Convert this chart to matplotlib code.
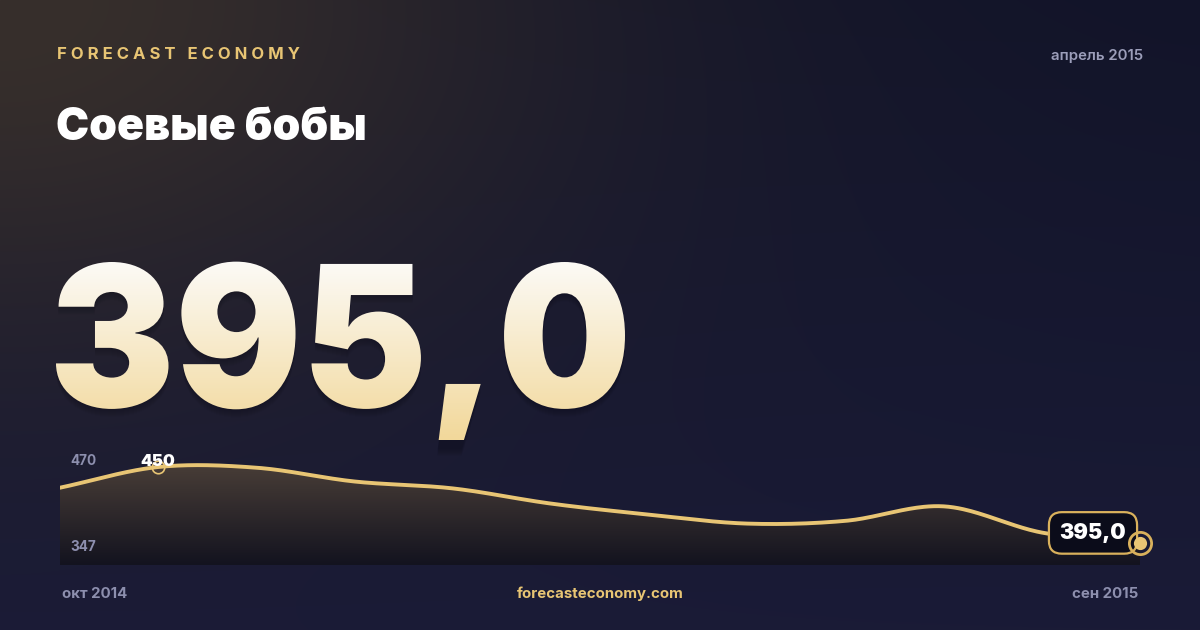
import matplotlib
matplotlib.use('Agg')
import matplotlib.pyplot as plt
import numpy as np
from matplotlib import font_manager as fm
from matplotlib.textpath import TextPath
from matplotlib.font_manager import FontProperties
from matplotlib.patches import PathPatch
from matplotlib.transforms import Affine2D
from matplotlib.colors import to_rgb

plt.rcParams['font.family'] = ['Inter', 'DejaVu Sans']

# Data
months = ['окт 2014', 'ноя 2014', 'дек 2014', 'янв 2015', 'фев 2015', 'мар 2015',
          'апр 2015', 'май 2015', 'июн 2015', 'июл 2015', 'авг 2015', 'сен 2015']
prices = [435.0, 450.0, 449.5, 439.5, 434.5, 423.5, 415.5, 409.0, 411.0, 421.5, 402.5, 395.0]
peak_label = '450'
last_label = '395,0'
axis_top_label = '470'
axis_bottom_label = '347'
title = 'Соевые бобы'
brand = 'FORECAST ECONOMY'
date_label = 'апрель 2015'
site = 'forecasteconomy.com'

gold = '#e8c574'
grey = '#8d8fae'
W, H = 1200, 630


def weight_num(w):
    if isinstance(w, (int, float)):
        return w
    return {'black': 900, 'heavy': 800, 'extra bold': 800, 'bold': 700}.get(str(w).lower(), 400)


# pick the heaviest installed face (Inter Black if present)
heavy_file = None
for fam in ['Inter', 'Roboto', 'Lato', 'Noto Sans', 'Open Sans']:
    cands = [f for f in fm.fontManager.ttflist if f.name == fam and f.style == 'normal']
    if cands:
        f = max(cands, key=lambda f: weight_num(f.weight))
        if weight_num(f.weight) >= 800:
            heavy_file = f.fname
            break
heavy_fp = FontProperties(fname=heavy_file) if heavy_file else FontProperties(family='Inter', weight='bold')

fig = plt.figure(figsize=(12, 6.3), dpi=100)

# Background with warm glow in the top-left corner
bg = fig.add_axes([0, 0, 1, 1])
bg.set_xlim(0, W)
bg.set_ylim(H, 0)
bg.axis('off')
yy, xx = np.mgrid[0:H, 0:W]
base_top = np.array(to_rgb('#121429'))
base_bot = np.array(to_rgb('#1a1b37'))
t = (yy / H)[..., None]
img = base_top * (1 - t) + base_bot * t
glow = np.exp(-((xx / 560.0) ** 2 + (yy / 360.0) ** 2))[..., None]
img = img * (1 - glow) + np.array(to_rgb('#372f2c')) * glow
bg.imshow(img, extent=[0, W, H, 0], aspect='auto', zorder=0)

# Header
bg.text(57, 59, '   '.join(' '.join(w) for w in brand.split()), color=gold,
        fontsize=12, fontweight='bold', va='baseline', ha='left')
bg.text(1143, 60, date_label, color='#9c9eba', fontsize=10.8, fontweight='semibold',
        va='baseline', ha='right')
bg.text(56, 140, title, color='white', fontsize=32, fontproperties=heavy_fp,
        va='baseline', ha='left')

# Big number with vertical gradient
tp = TextPath((0, 0), last_label, size=200, prop=heavy_fp)
ext = tp.get_extents()
zero_ext = TextPath((0, 0), '0', size=200, prop=heavy_fp).get_extents()
sy_ = 145.0 / zero_ext.y1
sx_ = 569.0 / ext.width
trans = Affine2D().translate(-ext.x0, 0).scale(sx_, -sy_).translate(56, 407)
big_path = trans.transform_path(tp)
for k in range(1, 9):
    sh = Affine2D().translate(0, k).transform_path(big_path)
    bg.add_patch(PathPatch(sh, facecolor='#05060f', edgecolor='none', alpha=0.035, zorder=2))
grad = np.linspace(0, 1, 256)[:, None, None]
c_top = np.array(to_rgb('#fcfbf8'))
c_bot = np.array(to_rgb('#f2d89a'))
gimg = np.repeat(c_top * (1 - grad) + c_bot * grad, 2, axis=1)
im = bg.imshow(gimg, extent=[40, 660, 440, 258], aspect='auto', zorder=3)
clip = PathPatch(big_path, facecolor='none', edgecolor='none', transform=bg.transData)
bg.add_patch(clip)
im.set_clip_path(clip)

# Footer
bg.text(62, 598, months[0], color=grey, fontsize=10.8, fontweight='bold', va='baseline', ha='left')
bg.text(600, 598, site, color=gold, fontsize=10.8, fontweight='bold', va='baseline', ha='center')
bg.text(1138, 598, months[-1], color=grey, fontsize=10.8, fontweight='bold', va='baseline', ha='right')

# Chart
ax = fig.add_axes([60 / W, 1 - 565 / H, 1080 / W, 110 / H])
ax.axis('off')
ax.patch.set_alpha(0)


def catmull_rom(x, y, n=40):
    x = np.asarray(x, float)
    y = np.asarray(y, float)
    px = np.concatenate([[2 * x[0] - x[1]], x, [2 * x[-1] - x[-2]]])
    py = np.concatenate([[2 * y[0] - y[1]], y, [2 * y[-1] - y[-2]]])
    out_x, out_y = [], []
    s = np.linspace(0, 1, n, endpoint=False)
    for i in range(1, len(px) - 2):
        for arr, out in ((px, out_x), (py, out_y)):
            p0, p1, p2, p3 = arr[i - 1], arr[i], arr[i + 1], arr[i + 2]
            out.extend(0.5 * (2 * p1 + (-p0 + p2) * s + (2 * p0 - 5 * p1 + 4 * p2 - p3) * s ** 2
                              + (-p0 + 3 * p1 - 3 * p2 + p3) * s ** 3))
    out_x.append(x[-1])
    out_y.append(y[-1])
    return np.array(out_x), np.array(out_y)


xs = np.arange(len(prices))
sx, sy = catmull_rom(xs, prices)

fill = ax.fill_between(sx, sy, 379, facecolor='none', edgecolor='none')
fgrad = np.linspace(0, 1, 256)[:, None, None]
f_top = np.array(to_rgb('#4d4139'))
f_bot = np.array(to_rgb('#13131f'))
fimg = np.repeat(f_top * (1 - fgrad) + f_bot * fgrad, 2, axis=1)
fim = ax.imshow(fimg, extent=[0, len(prices) - 1, 379, 458.7], aspect='auto', zorder=1)
fim.set_clip_path(fill.get_paths()[0], transform=ax.transData)
ax.set_xlim(0, len(prices) - 1)
ax.set_ylim(379, 458.7)

ax.plot(sx, sy, color=gold, lw=2.8, zorder=3, solid_capstyle='round')

# Axis range labels
ax.text(70, 461, axis_top_label, transform=bg.transData, color=grey,
        fontsize=9.8, fontweight='bold', va='center', ha='left', zorder=4)
ax.text(70, 547, axis_bottom_label, transform=bg.transData, color=grey,
        fontsize=9.8, fontweight='bold', va='center', ha='left', zorder=4)

# Peak marker
imax = int(np.argmax(prices))
ax.plot(xs[imax], prices[imax], 'o', ms=9, mfc='none', mec=gold, mew=1.2, zorder=4, clip_on=False)
ax.annotate(peak_label, (xs[imax], prices[imax]), xytext=(0, 6), textcoords='offset pixels',
            ha='center', va='center', color='white', fontsize=12, fontproperties=heavy_fp, zorder=5,
            annotation_clip=False)

# Last value box and marker
lbl = ax.annotate(last_label, (xs[-1], prices[-1]), xytext=(-47, 10), textcoords='offset pixels',
                  ha='center', va='center', color='white', fontproperties=heavy_fp, zorder=6,
                  annotation_clip=False,
                  bbox=dict(boxstyle='round,pad=0.5,rounding_size=0.6', fc='#0b0c1a', ec='#d9b15c', lw=1.6))
lbl.set_fontsize(15.5)
ax.plot(xs[-1], prices[-1], 'o', ms=16, mfc='none', mec='#d9b15c', mew=2.0, zorder=7, clip_on=False)
ax.plot(xs[-1], prices[-1], 'o', ms=9.5, mfc=gold, mec='none', zorder=8, clip_on=False)

fig.savefig('out.png', dpi=100)
